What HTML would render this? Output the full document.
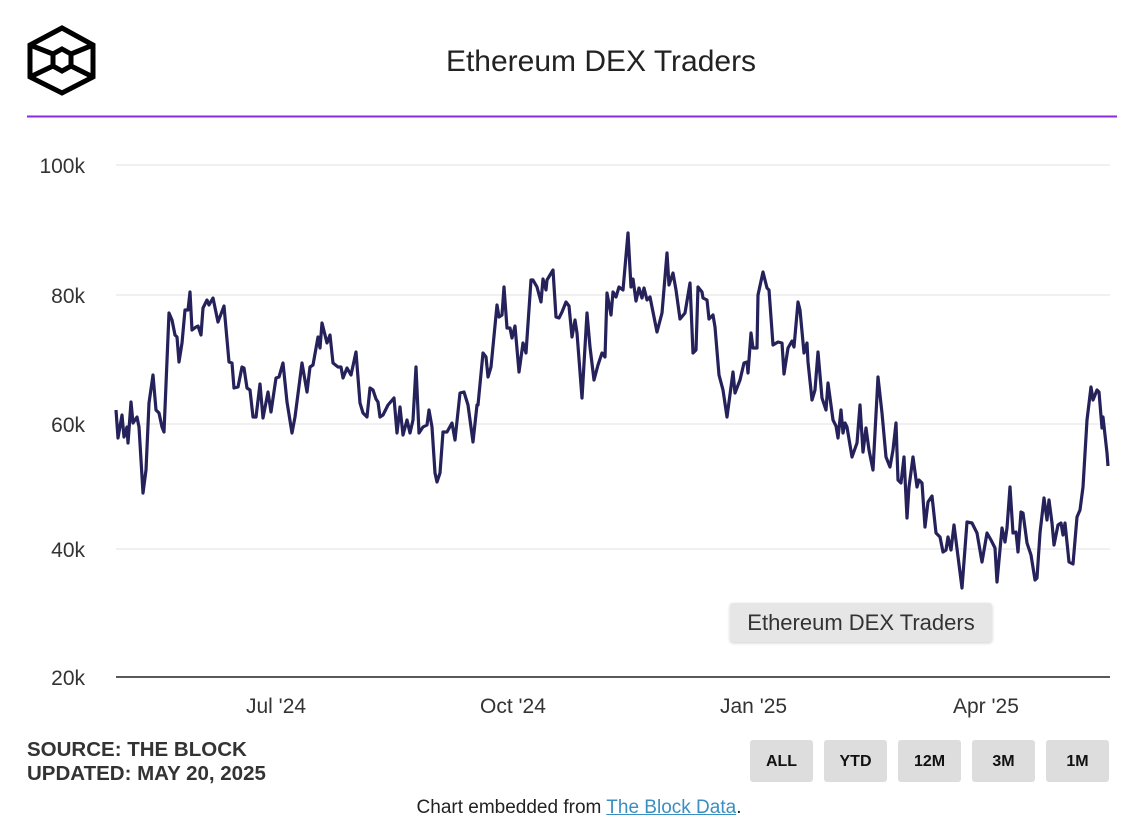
<!DOCTYPE html>
<html><head><meta charset="utf-8"><style>
body{margin:0;width:1144px;height:832px;background:#fff;font-family:"Liberation Sans",sans-serif;position:relative;overflow:hidden}
.t{position:absolute;white-space:nowrap}
.y{font-size:21px;color:#333;right:1059px}
.x{font-size:21px;color:#333;top:695px}
.btn{position:absolute;top:740px;width:63px;height:42px;background:#ddd;border-radius:3px;font-weight:bold;font-size:16px;color:#111;text-align:center;line-height:44px}
</style></head><body>
<svg width="1144" height="832" style="position:absolute;left:0;top:0">
<g fill="none" stroke="#000" stroke-width="5" stroke-linejoin="miter">
<polygon points="62,28 93,45 93,77 62,93 30,77 30,45"/>
<polygon points="62,49 71,54 71,66 62,71 53,66 53,54"/>
<line x1="30" y1="45" x2="53" y2="54"/><line x1="93" y1="45" x2="71" y2="54"/>
<line x1="30" y1="77" x2="53" y2="66"/><line x1="93" y1="77" x2="71" y2="66"/>
</g>
<line x1="27" y1="116.5" x2="1117" y2="116.5" stroke="#8a2be2" stroke-width="2"/>
<g stroke="#ececec" stroke-width="1.5">
<line x1="116" y1="165" x2="1110" y2="165"/><line x1="116" y1="295" x2="1110" y2="295"/>
<line x1="116" y1="424" x2="1110" y2="424"/><line x1="116" y1="549" x2="1110" y2="549"/>
</g>
<line x1="116" y1="677" x2="1110" y2="677" stroke="#222" stroke-width="1.5"/>
<polyline fill="none" stroke="#25215a" stroke-width="3.2" stroke-linejoin="round" points="116,410 118,438 122,415 124,437 127,427 128,443 131,402 133,423 137,417 139,427 143,493 146,470 149,403 153,375 156,410 159,413 162,427 164,432 169,313 172,320 175,335 177,337 179,362 182,343 185,310 188,310 190,292 192,330 196,327 198,326 201,335 203,308 207,300 209,305 213,298 218,322 224,306 229,362 232,363 234,388 238,387 242,367 244,368 247,388 250,390 253,417 256,417 260,384 263,418 268,392 271,412 276,378 279,377 283,363 287,402 292,433 295,417 302,363 307,392 310,367 313,365 318,337 320,348 322,323 327,343 330,335 333,363 338,367 341,367 343,378 347,368 351,375 356,352 360,403 363,413 367,417 370,388 373,390 376,399 378,402 380,417 383,415 388,405 394,398 397,433 400,407 403,435 407,420 410,433 413,420 416,367 419,433 423,427 427,425 429,410 432,427 435,473 437,482 440,473 443,432 447,432 452,423 455,440 460,393 464,392 468,405 473,442 477,405 478,405 483,353 486,357 488,377 491,367 497,305 499,317 502,315 504,287 507,328 510,328 512,338 515,326 519,372 523,343 526,353 531,280 533,280 537,287 541,302 543,279 546,290 547,280 553,270 556,317 559,318 562,312 566,302 569,306 572,337 575,320 577,333 582,398 587,313 590,347 594,380 598,365 602,353 605,357 607,293 611,315 613,292 616,297 619,287 623,290 628,233 631,287 633,279 636,301 639,288 642,298 644,288 647,300 650,297 657,332 662,313 667,253 669,285 673,273 676,290 680,319 685,313 690,283 693,353 696,350 698,287 702,292 703,298 707,300 709,319 713,315 715,327 719,375 723,390 727,417 733,372 735,393 740,380 744,363 747,362 748,373 751,333 753,348 757,348 758,295 763,272 767,288 769,290 773,345 778,342 782,343 784,374 788,348 792,341 794,347 798,302 800,310 804,353 807,343 808,362 812,400 815,390 818,352 822,398 826,410 828,383 833,420 836,426 838,438 841,410 843,433 845,423 847,427 852,457 857,443 860,405 863,452 866,428 869,450 873,470 878,377 882,413 886,457 890,467 893,450 896,423 898,480 901,483 904,457 907,518 909,487 913,457 917,487 919,480 922,483 925,527 928,502 932,496 936,533 940,537 943,552 946,550 948,537 951,550 954,525 962,588 967,522 972,523 977,533 982,562 987,533 991,540 995,548 997,582 1002,528 1005,542 1007,528 1010,487 1013,533 1016,532 1018,552 1021,512 1023,513 1027,543 1031,555 1035,580 1037,578 1040,533 1044,498 1047,520 1049,500 1052,523 1054,545 1058,525 1061,523 1063,535 1065,523 1069,562 1073,564 1077,517 1080,510 1083,487 1087,420 1091,387 1093,400 1097,390 1099,392 1102,428 1103,417 1107,453 1108,466"/>
</svg>
<div class="t" style="left:0;width:1202px;text-align:center;top:45px;font-size:30px;color:#222">Ethereum DEX Traders</div>
<div class="t y" style="top:155px">100k</div>
<div class="t y" style="top:285px">80k</div>
<div class="t y" style="top:414px">60k</div>
<div class="t y" style="top:539px">40k</div>
<div class="t y" style="top:667px">20k</div>
<div class="t x" style="left:246px">Jul '24</div>
<div class="t x" style="left:480px">Oct '24</div>
<div class="t x" style="left:720px">Jan '25</div>
<div class="t x" style="left:953px">Apr '25</div>
<div class="t" style="left:730px;top:603px;width:262px;height:39px;background:#e6e6e6;border-radius:3px;box-shadow:0 1px 3px rgba(0,0,0,.2);font-size:22px;color:#333;text-align:center;line-height:39px">Ethereum DEX Traders</div>
<div class="t" style="left:27px;top:738px;font-size:20.5px;font-weight:bold;color:#333;line-height:24px">SOURCE: THE BLOCK<br>UPDATED: MAY 20, 2025</div>
<div class="btn" style="left:750px">ALL</div>
<div class="btn" style="left:824px">YTD</div>
<div class="btn" style="left:898px">12M</div>
<div class="btn" style="left:972px">3M</div>
<div class="btn" style="left:1046px">1M</div>
<div class="t" style="left:0;width:1158px;text-align:center;top:797px;font-size:19px;color:#222">Chart embedded from <span style="color:#3a8fc0;text-decoration:underline">The Block Data</span>.</div>
</body></html>
